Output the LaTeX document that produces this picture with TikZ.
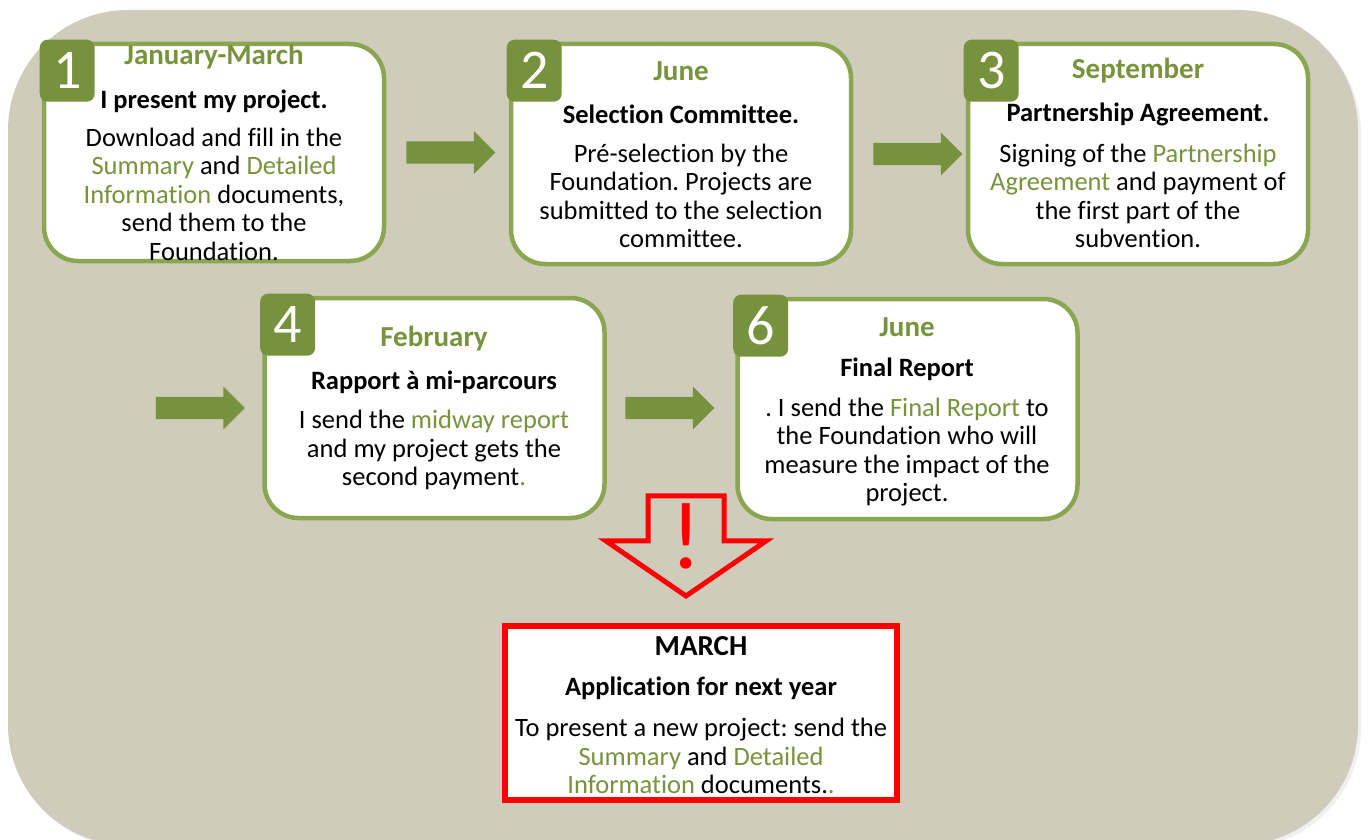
\documentclass[tikz,border=0pt]{standalone}
\usepackage{fontspec}
\setmainfont{Carlito}[Ligatures=CommonOff]
\usepackage{xcolor}
\usetikzlibrary{positioning}
\usetikzlibrary{shapes.arrows}
\definecolor{backgr}{HTML}{CFCCBC}
\definecolor{boxgreen}{HTML}{8BA650}
\definecolor{darkgreen}{HTML}{76923C}
\definecolor{textgreen}{HTML}{77933C}
\newcommand{\grn}[1]{\textcolor{textgreen}{#1}}
\frenchspacing
\tikzset{
    stepbox/.style={draw=boxgreen, line width=4.5pt, fill=white, rounded corners=34pt,
        minimum width=340pt, minimum height=220pt, inner sep=0pt},
    numbox/.style={fill=darkgreen, rounded corners=8pt, minimum width=55pt,
        minimum height=62pt, inner sep=0pt, text=white,
        font=\fontsize{56}{56}\selectfont, anchor=north west},
    month/.style={text=textgreen, inner sep=0pt, font=\fontsize{29}{32}\selectfont\bfseries},
    headline/.style={inner sep=0pt, font=\fontsize{26.5}{30}\selectfont\bfseries},
    bodytext/.style={align=center, inner sep=0pt, font=\fontsize{26.5}{28.5}\selectfont},
    steparrow/.style={single arrow, fill=darkgreen, inner xsep=0pt, inner ysep=11pt,
        single arrow head extend=10.5pt, minimum height=89pt},
    warnarrow/.style={single arrow, draw=red, line width=5pt, inner xsep=0pt,
        inner ysep=35.5pt, single arrow head extend=42pt, single arrow tip angle=111,
        minimum height=100pt, rotate=-90},
    redbox/.style={draw=red, line width=6pt, fill=white, minimum width=392pt,
        minimum height=174pt, inner sep=0pt},
}
\begin{document}
\begin{tikzpicture}[x=1pt, y=-1pt]
	\useasboundingbox (0,0) rectangle (1370,840);
	% background
	\fill[black!15, opacity=.4, rounded corners=120pt] (11,13) rectangle (1361,848);
	\fill[backgr, rounded corners=120pt] (8,10) rectangle (1358,845);
	% first row
	\node[stepbox, minimum height=217pt] (s1) at (214,152.5) {};
	\node[stepbox] (s2) at (681,154) {};
	\node[stepbox] (s3) at (1138,154) {};
	\node[numbox] (n1) at ([shift={(-2.25pt,2.25pt)}]s1.north west) {1};
	\node[numbox] (n2) at ([shift={(-2.25pt,2.25pt)}]s2.north west) {2};
	\node[numbox] (n3) at ([shift={(-2.25pt,2.25pt)}]s3.north west) {3};
	\node[month] (m1) at (214,57) {January-March};
	\node[headline] (h1) at (214,101) {I present my project.};
	\node[bodytext] (b1) at (214,194) {Download and fill in the\\
		\grn{Summary} and \grn{Detailed}\\ \grn{Information} documents,\\
		send them to the\\ Foundation.};
	\node[month] (m2) at (681,71) {June};
	\node[headline] (h2) at (681,114) {Selection Committee.};
	\node[bodytext] (b2) at (681,196) {Pré-selection by the\\ Foundation. Projects are\\
		submitted to the selection\\ committee.};
	\node[month] (m3) at (1138,71) {September};
	\node[headline] (h3) at (1138,114) {Partnership Agreement.};
	\node[bodytext] (b3) at (1138,196) {Signing of the \grn{Partnership}\\
		\grn{Agreement} and payment of\\ the first part of the\\ subvention.};
	% second row
	\node[stepbox] (s4) at (434.5,408) {};
	\node[stepbox] (s6) at (907.5,409) {};
	\node[numbox] (n4) at ([shift={(-2.25pt,2.25pt)}]s4.north west) {4};
	\node[numbox] (n6) at ([shift={(-2.25pt,2.25pt)}]s6.north west) {6};
	\node[month] (m4) at (434,339) {February};
	\node[headline] (h4) at (434,382) {Rapport à mi-parcours};
	\node[bodytext] (b4) at (434,450) {I send the \grn{midway report}\\
		and my project gets the\\ second payment\grn{.}};
	\node[month] (m6) at (907,327) {June};
	\node[headline] (h6) at (907,369) {Final Report};
	\node[bodytext] (b6) at (907,452) {. I send the \grn{Final Report} to\\
		the Foundation who will\\ measure the impact of the\\ project.};
	% arrows between the steps
	\node[steparrow, anchor=tail] (a1) at ([xshift=20pt]s1.east) {};
	\node[steparrow, anchor=tail] (a2) at ([xshift=20pt]s2.east) {};
	\node[steparrow, anchor=tip] (a3) at ([xshift=-17pt]s4.west) {};
	\node[steparrow, anchor=tail] (a4) at ([xshift=18.5pt]s4.east) {};
	% next year
	\node[redbox] (r) at (701,713) {};
	\node[warnarrow, anchor=tip] (w) at ([shift={(-15pt,24pt)}]r.north) {};
	\node[text=red, inner sep=0pt, font=\fontsize{96}{96}\selectfont] (bang) at (686,536) {!};
	\node[month, text=black] (rm) at (701,646) {MARCH};
	\node[headline] (rh) at (701,688) {Application for next year};
	\node[bodytext] (rb) at (701,756) {To present a new project: send the\\
		\grn{Summary} and \grn{Detailed}\\ \grn{Information} documents.\grn{.}};
\end{tikzpicture}
\end{document}
